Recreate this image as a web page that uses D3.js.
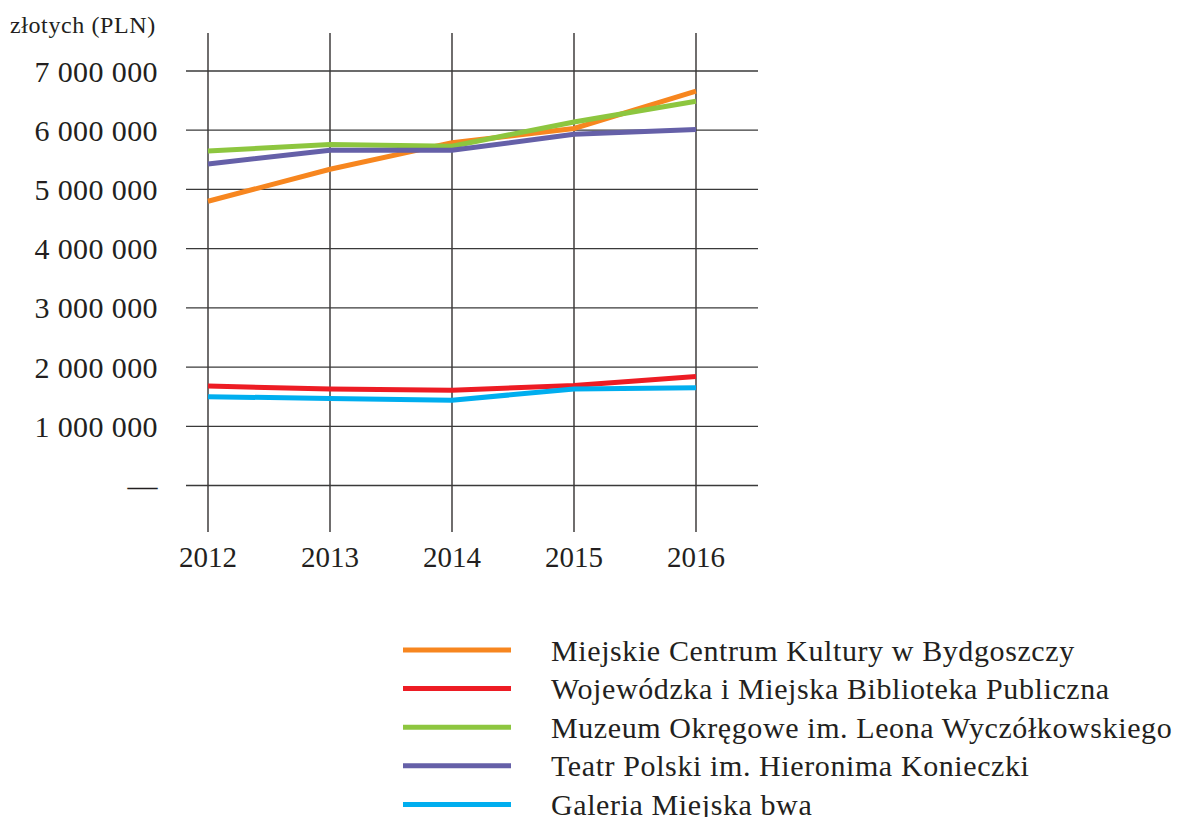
<!DOCTYPE html>
<html>
<head>
<meta charset="utf-8">
<script src="https://cdn.jsdelivr.net/npm/d3@7"></script>
<style>
  body { margin: 0; background: #fff; }
  text { font-family: "Liberation Serif", "DejaVu Serif", serif; fill: #231f20; }
</style>
</head>
<body>
<div id="chart"></div>
<script>
var years = ["2012", "2013", "2014", "2015", "2016"];
var names = ["Miejskie Centrum Kultury w Bydgoszczy",
             "Wojewódzka i Miejska Biblioteka Publiczna",
             "Muzeum Okręgowe im. Leona Wyczółkowskiego",
             "Teatr Polski im. Hieronima Konieczki",
             "Galeria Miejska bwa"];
var mck   = [4800000, 5340000, 5790000, 6030000, 6660000];
var wimbp = [1680000, 1630000, 1610000, 1690000, 1840000];
var muzeum = [5650000, 5757000, 5730000, 6140000, 6490000];
var teatr = [5430000, 5660000, 5660000, 5930000, 6010000];
var galeria = [1500000, 1470000, 1440000, 1630000, 1650000];
var yTicks = [0, 1000000, 2000000, 3000000, 4000000, 5000000, 6000000, 7000000];
var colors = ["#f7861f", "#ed1c24", "#8dc63f", "#6560a8", "#00aeef"];

var series = [mck, wimbp, muzeum, teatr, galeria];

var width = 1181, height = 817;
var svg = d3.select("#chart").append("svg")
    .attr("width", width)
    .attr("height", height);

var x = d3.scalePoint().domain(years).range([208, 696]);
var y = d3.scaleLinear().domain([0, 7000000]).range([485.5, 71]);

var fmt = function(v) {
    if (v === 0) return "—";
    return d3.format(",")(v).replace(/,/g, " ");
};

// vertical grid lines
svg.append("g").selectAll("line")
    .data(years).enter().append("line")
    .attr("x1", d => x(d)).attr("x2", d => x(d))
    .attr("y1", 33).attr("y2", 532)
    .attr("stroke", "#231f20").attr("stroke-width", 1.3);

// horizontal grid lines
svg.append("g").selectAll("line")
    .data(yTicks).enter().append("line")
    .attr("x1", 186).attr("x2", 758)
    .attr("y1", d => y(d)).attr("y2", d => y(d))
    .attr("stroke", "#3a3a3a").attr("stroke-width", 1.3);

// y labels
svg.append("g").selectAll("text")
    .data(yTicks).enter().append("text")
    .attr("x", 158)
    .attr("y", d => y(d))
    .attr("dy", "0.35em")
    .attr("text-anchor", "end")
    .attr("font-size", 30)
    .attr("letter-spacing", 0.4)
    .text(fmt);

svg.append("text")
    .attr("x", 10).attr("y", 33)
    .attr("font-size", 24)
    .attr("letter-spacing", 0.6)
    .text("złotych (PLN)");

// x labels
svg.append("g").selectAll("text")
    .data(years).enter().append("text")
    .attr("x", d => x(d))
    .attr("y", 567)
    .attr("text-anchor", "middle")
    .attr("font-size", 29)
    .text(d => d);

var line = d3.line()
    .x((d, i) => x(years[i]))
    .y(d => y(d));

svg.append("g").selectAll("path")
    .data(series).enter().append("path")
    .attr("d", line)
    .attr("fill", "none")
    .attr("stroke", (d, i) => colors[i])
    .attr("stroke-width", 5);

// legend
var leg = svg.append("g").selectAll("g")
    .data(names).enter().append("g")
    .attr("transform", (d, i) => "translate(0," + (650 + i * 38.6) + ")");

leg.append("line")
    .attr("x1", 403).attr("x2", 511)
    .attr("stroke", (d, i) => colors[i])
    .attr("stroke-width", 5);

leg.append("text")
    .attr("x", 551)
    .attr("dy", "0.35em")
    .attr("font-size", 30)
    .attr("letter-spacing", 0.6)
    .text(d => d);
</script>
</body>
</html>
